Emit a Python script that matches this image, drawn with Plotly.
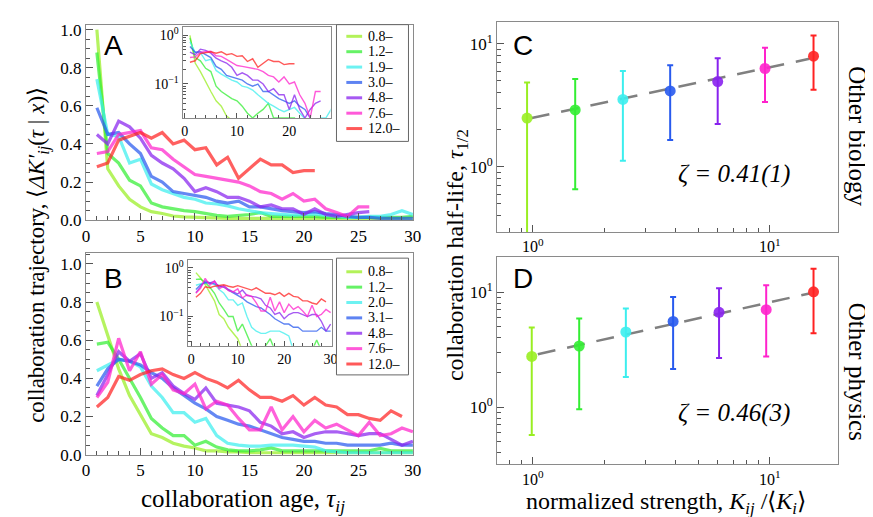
import plotly.graph_objects as go

W, H = 873, 517

labels_A = ["0.8–", "1.2–", "1.9–", "3.0–", "4.8–", "7.6–", "12.0–"]
labels_B = ["0.8–", "1.2–", "2.0–", "3.1–", "4.8–", "7.6–", "12.0–"]
colors = ["rgb(153,238,34)", "rgb(51,238,51)", "rgb(60,238,238)", "rgb(40,90,238)",
          "rgb(136,34,238)", "rgb(255,34,204)", "rgb(255,34,34)"]

# Panel A trajectories (tau = 1, 2, ...)
A_08 = [1.00, 0.27, 0.18, 0.11, 0.07, 0.045, 0.035, 0.022, 0.018, 0.015, 0.012, 0.01, 0.01, 0.01, 0.01,
        0.01, 0.01, 0.01, 0.01, 0.01, 0.01, 0.01, 0.01, 0.01, 0.01, 0.01, 0.01, 0.01, 0.01, 0.01]
A_12 = [0.88, 0.35, 0.30, 0.21, 0.18, 0.09, 0.07, 0.06, 0.05, 0.045, 0.035, 0.025, 0.02, 0.025, 0.03,
        0.04, 0.02, 0.02, 0.02, 0.02, 0.02, 0.015, 0.015, 0.015, 0.015, 0.015, 0.015, 0.015, 0.015, 0.02]
A_19 = [0.74, 0.45, 0.44, 0.30, 0.32, 0.19, 0.16, 0.14, 0.12, 0.11, 0.09, 0.085, 0.075, 0.06, 0.05,
        0.04, 0.035, 0.03, 0.027, 0.03, 0.033, 0.025, 0.02, 0.015, 0.015, 0.02, 0.02, 0.03, 0.05, 0.03]
A_30 = [0.59, 0.45, 0.46, 0.40, 0.35, 0.23, 0.20, 0.15, 0.14, 0.13, 0.12, 0.10, 0.09, 0.10, 0.07,
        0.07, 0.06, 0.05, 0.045, 0.04, 0.045, 0.035, 0.03, 0.02, 0.015, 0.015, 0.01, 0.01, 0.01, 0.01]
A_48 = [0.45, 0.40, 0.52, 0.49, 0.43, 0.34, 0.30, 0.27, 0.22, 0.15, 0.17, 0.15, 0.12, 0.12, 0.10,
        0.07, 0.08, 0.06, 0.06, 0.03, 0.06, 0.03, 0.02, 0.03, 0.04, 0.045]
A_76 = [0.35, 0.36, 0.45, 0.46, 0.47, 0.38, 0.37, 0.32, 0.28, 0.24, 0.23, 0.22, 0.21, 0.20, 0.18,
        0.15, 0.14, 0.11, 0.14, 0.10, 0.11, 0.06, 0.04, 0.02, 0.07, 0.07]
A_120 = [0.28, 0.30, 0.42, 0.44, 0.46, 0.43, 0.46, 0.40, 0.42, 0.37, 0.38, 0.29, 0.33, 0.22, 0.27,
         0.32, 0.29, 0.29, 0.25, 0.26, 0.26]

# Panel B trajectories
B_08 = [0.80, 0.62, 0.45, 0.31, 0.21, 0.11, 0.09, 0.06, 0.045, 0.035, 0.02, 0.02, 0.015, 0.015, 0.01,
        0.01, 0.01, 0.01, 0.01, 0.01, 0.01, 0.01, 0.01, 0.01, 0.01, 0.01, 0.01, 0.01, 0.01, 0.01]
B_12 = [0.58, 0.59, 0.50, 0.40, 0.30, 0.19, 0.14, 0.10, 0.10, 0.05, 0.07, 0.04, 0.025, 0.02, 0.02,
        0.025, 0.035, 0.02, 0.02, 0.02, 0.02, 0.02, 0.02, 0.02, 0.02, 0.02, 0.033, 0.02, 0.02, 0.02]
B_20 = [0.44, 0.47, 0.50, 0.49, 0.46, 0.36, 0.30, 0.22, 0.22, 0.17, 0.19, 0.10, 0.06, 0.05, 0.045,
        0.045, 0.05, 0.05, 0.05, 0.045, 0.04, 0.02, 0.015, 0.01, 0.01, 0.01, 0.01, 0.01, 0.01, 0.01]
B_31 = [0.36, 0.45, 0.50, 0.49, 0.47, 0.43, 0.40, 0.35, 0.31, 0.27, 0.24, 0.20, 0.18, 0.16, 0.15,
        0.13, 0.11, 0.09, 0.08, 0.07, 0.07, 0.06, 0.06, 0.05, 0.05, 0.05, 0.05, 0.06, 0.05, 0.05]
B_48 = [0.31, 0.42, 0.54, 0.49, 0.53, 0.40, 0.43, 0.36, 0.32, 0.29, 0.35, 0.27, 0.26, 0.25, 0.23,
        0.17, 0.15, 0.11, 0.12, 0.09, 0.11, 0.12, 0.12, 0.11, 0.10, 0.11, 0.11, 0.08, 0.05, 0.07]
B_76 = [0.30, 0.38, 0.61, 0.44, 0.54, 0.37, 0.42, 0.34, 0.32, 0.37, 0.24, 0.28, 0.26, 0.19, 0.13,
        0.13, 0.25, 0.13, 0.20, 0.12, 0.18, 0.14, 0.16, 0.13, 0.10, 0.17, 0.10, 0.11, 0.14, 0.12]
B_120 = [0.25, 0.30, 0.41, 0.39, 0.42, 0.44, 0.45, 0.42, 0.40, 0.43, 0.40, 0.38, 0.35, 0.39, 0.34,
         0.30, 0.30, 0.28, 0.31, 0.26, 0.30, 0.26, 0.25, 0.21, 0.21, 0.19, 0.18, 0.23, 0.20]

series_A = [A_08, A_12, A_19, A_30, A_48, A_76, A_120]
series_B = [B_08, B_12, B_20, B_31, B_48, B_76, B_120]

# Panel C (Other biology) half-lives
C_x = [0.946, 1.51, 2.40, 3.80, 6.03, 9.55, 15.3]
C_y = [2.49, 2.90, 3.53, 4.14, 4.93, 6.30, 7.93]
C_hi = [4.84, 5.18, 6.00, 6.69, 7.64, 9.29, 11.7]
C_lo = [0.10, 0.656, 1.12, 1.65, 2.23, 3.36, 4.24]
C_fit_x = [0.99, 14.7]
C_fit_y = [2.49, 7.56]

# Panel D (Other physics)
D_x = [0.99, 1.57, 2.47, 3.91, 6.11, 9.66, 15.3]
D_y = [2.76, 3.40, 4.50, 5.57, 6.68, 7.04, 10.07]
D_hi = [4.92, 5.90, 7.21, 9.07, 10.8, 11.5, 16.0]
D_lo = [0.571, 0.955, 1.83, 2.14, 2.67, 2.76, 4.38]
D_fit_x = [1.05, 14.7]
D_fit_y = [2.88, 9.75]

SERIF = "Liberation Serif"
SANS = "Liberation Sans"


def px_x(a, b):
    return [a / W, b / W]


def px_y(top, bottom):
    return [1 - bottom / H, 1 - top / H]


def rgba(c, a):
    return c.replace("rgb(", "rgba(").replace(")", f",{a})")


fig = go.Figure()

# Main + inset line traces
for series, labels, xa_main, ya_main, xa_in, ya_in in [
    (series_A, labels_A, "x", "y", "x2", "y2"),
    (series_B, labels_B, "x3", "y3", "x4", "y4"),
]:
    for vals, lab, col in zip(series, labels, colors):
        tau = list(range(1, len(vals) + 1))
        fig.add_trace(go.Scatter(x=tau, y=vals, mode="lines", name=lab, showlegend=False,
                                 line=dict(color=rgba(col, 0.72), width=3.2),
                                 xaxis=xa_main, yaxis=ya_main))
        fig.add_trace(go.Scatter(x=tau, y=vals, mode="lines", showlegend=False,
                                 line=dict(color=rgba(col, 0.75), width=1.4),
                                 xaxis=xa_in, yaxis=ya_in))

# Half-life panels
for xs, ys, hi, lo, fx, fy, xa, ya in [
    (C_x, C_y, C_hi, C_lo, C_fit_x, C_fit_y, "x5", "y5"),
    (D_x, D_y, D_hi, D_lo, D_fit_x, D_fit_y, "x6", "y6"),
]:
    fig.add_trace(go.Scatter(x=fx, y=fy, mode="lines", showlegend=False,
                             line=dict(color="#808080", width=2.5, dash="18px,12px"),
                             xaxis=xa, yaxis=ya))
    for xv, yv, h, l, col in zip(xs, ys, hi, lo, colors):
        fig.add_trace(go.Scatter(x=[xv], y=[yv], mode="markers", showlegend=False,
                                 marker=dict(color=col, size=11, opacity=0.9),
                                 error_y=dict(type="data", symmetric=False, array=[h - yv],
                                              arrayminus=[yv - l], color=col, thickness=2, width=3),
                                 xaxis=xa, yaxis=ya))

tickfont = dict(family=SERIF, size=17, color="black")
logxfont = dict(family=SERIF, size=16, color="black")
insetfont = dict(family=SERIF, size=14, color="black")
common = dict(showline=True, linecolor="#8a8a8a", linewidth=1.3, mirror=True, showgrid=False,
              zeroline=False, ticks="inside", tickcolor="#555", ticklen=7, tickwidth=1)
inset_common = {**common, "ticklen": 5}

log_minor_y = [0.02, 0.03, 0.04, 0.05, 0.06, 0.07, 0.08, 0.09, 0.2, 0.3, 0.4, 0.5, 0.6, 0.7, 0.8, 0.9]
big_minor = [0.4, 0.5, 0.6, 0.7, 0.8, 0.9, 2, 3, 4, 5, 6, 7, 8, 9, 20, 30]
sup_labels = ["10<sup>0</sup>", "10<sup>1</sup>"]

layout = dict(
    width=W, height=H, margin=dict(l=0, r=0, t=0, b=0),
    paper_bgcolor="white", plot_bgcolor="white", showlegend=False,
    # Panel A
    xaxis=dict(domain=px_x(75, 407), range=[0, 30.05], anchor="y", tickvals=[0, 5, 10, 15, 20, 25, 30],
               minor=dict(ticks="inside", ticklen=4, dtick=1, tickcolor="#555"), tickfont=tickfont, **common),
    yaxis=dict(domain=px_y(13, 214), range=[0, 1.026], anchor="x", tickvals=[0, 0.2, 0.4, 0.6, 0.8, 1.0],
               tickformat=".1f", minor=dict(ticks="inside", ticklen=4, dtick=0.05, tickcolor="#555"),
               tickfont=tickfont, **common),
    xaxis2=dict(domain=px_x(173, 323), range=[-0.4, 27.9], anchor="y2", tickvals=[0, 10, 20],
                minor=dict(ticks="inside", ticklen=3, dtick=2, tickcolor="#555"), tickfont=insetfont,
                **inset_common),
    yaxis2=dict(domain=px_y(15, 109), type="log", range=[-1.7, 0.18], anchor="x2", tickvals=[0.1, 1],
                ticktext=["10<sup>−1</sup>", "10<sup>0</sup>"],
                minor=dict(ticks="inside", ticklen=3, tickvals=log_minor_y, tickcolor="#555"),
                tickfont=insetfont, **inset_common),
    # Panel B
    xaxis3=dict(domain=px_x(75, 407), range=[0, 30.05], anchor="y3", tickvals=[0, 5, 10, 15, 20, 25, 30],
                minor=dict(ticks="inside", ticklen=4, dtick=1, tickcolor="#555"), tickfont=tickfont, **common),
    yaxis3=dict(domain=px_y(248, 455), range=[0, 1.056], anchor="x3", tickvals=[0, 0.2, 0.4, 0.6, 0.8, 1.0],
                tickformat=".1f", minor=dict(ticks="inside", ticklen=4, dtick=0.05, tickcolor="#555"),
                tickfont=tickfont, **common),
    xaxis4=dict(domain=px_x(178, 324), range=[-0.8, 30.2], anchor="y4", tickvals=[0, 10, 20, 30],
                minor=dict(ticks="inside", ticklen=3, dtick=2, tickcolor="#555"), tickfont=insetfont,
                **inset_common),
    yaxis4=dict(domain=px_y(255, 343), type="log", range=[-1.6, 0.16], anchor="x4", tickvals=[0.1, 1],
                ticktext=["10<sup>−1</sup>", "10<sup>0</sup>"],
                minor=dict(ticks="inside", ticklen=3, tickvals=log_minor_y, tickcolor="#555"),
                tickfont=insetfont, **inset_common),
    # Panel C
    xaxis5=dict(domain=px_x(492, 838), type="log", range=[-0.15, 1.29], anchor="y5", tickvals=[1, 10],
                ticktext=sup_labels, minor=dict(ticks="inside", ticklen=4, tickvals=big_minor, tickcolor="#555"),
                tickfont=logxfont, ticklabelstandoff=0, **common),
    yaxis5=dict(domain=px_y(10, 226), type="log", range=[-0.53, 1.18], anchor="x5", tickvals=[1, 10],
                ticktext=sup_labels, minor=dict(ticks="inside", ticklen=4, tickvals=big_minor, tickcolor="#555"),
                tickfont=tickfont, **common),
    # Panel D
    xaxis6=dict(domain=px_x(492, 838), type="log", range=[-0.15, 1.29], anchor="y6", tickvals=[1, 10],
                ticktext=sup_labels, minor=dict(ticks="inside", ticklen=4, tickvals=big_minor, tickcolor="#555"),
                tickfont=logxfont, ticklabelstandoff=0, **common),
    yaxis6=dict(domain=px_y(252, 465), type="log", range=[-0.5, 1.305], anchor="x6", tickvals=[1, 10],
                ticktext=sup_labels, minor=dict(ticks="inside", ticklen=4, tickvals=big_minor, tickcolor="#555"),
                tickfont=tickfont, **common),
)
fig.update_layout(**layout)


def ann(text, xpx, ypx, size, family=SERIF, angle=0, xanchor="center"):
    fig.add_annotation(text=text, x=xpx / W, y=1 - ypx / H, xref="paper", yref="paper",
                       showarrow=False, textangle=angle, font=dict(family=family, size=size, color="black"),
                       xanchor=xanchor, yanchor="middle")


# Legend boxes (drawn as shapes + text, one entry per series label)
for labels, box_top, box_bottom, first_y in [(labels_A, 13, 133, 25), (labels_B, 253, 373, 267)]:
    fig.add_shape(type="rect", xref="paper", yref="paper", x0=329 / W, x1=402 / W,
                  y0=1 - box_bottom / H, y1=1 - box_top / H, line=dict(color="#666", width=1),
                  fillcolor="white", layer="above")
    for i, (lab, col) in enumerate(zip(labels, colors)):
        yy = first_y + 15.8 * i
        fig.add_shape(type="line", xref="paper", yref="paper", x0=339 / W, x1=355 / W,
                      y0=1 - yy / H, y1=1 - yy / H, line=dict(color=rgba(col, 0.75), width=3),
                      layer="above")
        ann(lab, 359, yy, 14, xanchor="left")

ann("A", 103, 34, 28, family=SANS)
ann("B", 103, 274, 28, family=SANS)
ann("C", 518, 34, 28, family=SANS)
ann("D", 518, 274, 28, family=SANS)
ann("<i>ζ = 0.41(1)</i>", 732, 167, 25)
ann("<i>ζ = 0.46(3)</i>", 732, 412, 25)
ann("collaboration age, <i>τ<sub>ij</sub></i>", 234, 502, 25)
ann("normalized strength, <i>K<sub>ij</sub></i> /⟨<i>K<sub>i</sub></i>⟩", 663, 505, 24)
ann("collaboration trajectory, ⟨<i>ΔK′<sub>ij</sub></i>(<i>τ</i> | <i>x</i>)⟩", 27, 250, 23, angle=-90)
ann("collaboration half-life, <i>τ</i><sub>1/2</sub>", 451, 250, 24, angle=-90)
ann("Other biology", 857, 128, 25, angle=90)
ann("Other physics", 857, 370, 25, angle=90)

fig.write_html("out.html")
